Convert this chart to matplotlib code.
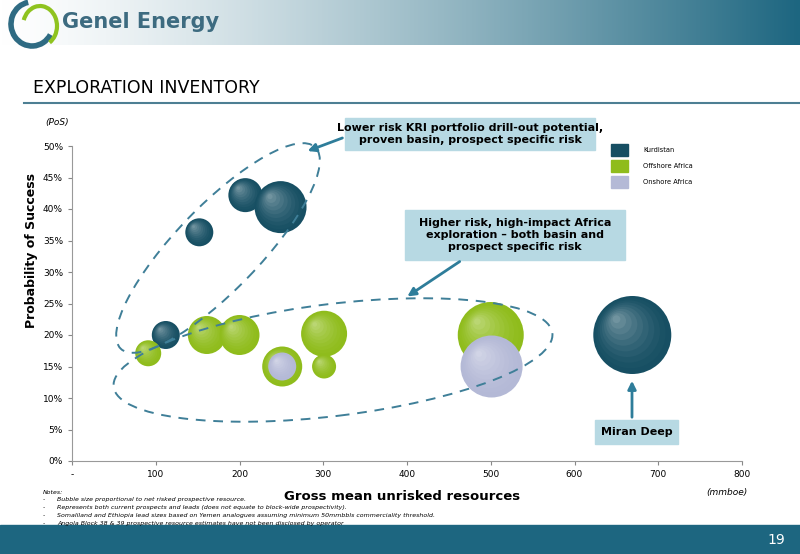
import numpy as np
import matplotlib
matplotlib.use('Agg')
import matplotlib.pyplot as plt
from matplotlib.patches import Ellipse, Arc
from matplotlib.colors import to_rgb

# data (x = gross mean unrisked resources mmboe, y = PoS %, r = bubble radius px)
kur_x = [207, 249, 152, 112, 669]
kur_y = [42.2, 40.3, 36.3, 20.0, 20.0]
kur_r = [17, 26, 14, 14, 39]
off_x = [91, 161, 200, 251, 301, 301, 500]
off_y = [17.1, 20.0, 20.0, 15.0, 20.2, 15.0, 20.0]
off_r = [13, 19, 20, 20, 23, 12, 33]
on_x = [251, 501]
on_y = [15.0, 15.0]
on_r = [14, 31]
series = [('Kurdistan', '#174f63', kur_x, kur_y, kur_r),
          ('Offshore Africa', '#8fbc1c', off_x, off_y, off_r),
          ('Onshore Africa', '#b4b9d6', on_x, on_y, on_r)]
xticks = [0, 100, 200, 300, 400, 500, 600, 700, 800]
xlabels = ['-'] + [str(v) for v in xticks[1:]]
yticks = [0, 5, 10, 15, 20, 25, 30, 35, 40, 45, 50]

TEAL = '#1d6680'
fig = plt.figure(figsize=(8, 5.54), dpi=100)

# overlay in pixel coords
ov = fig.add_axes([0, 0, 1, 1], zorder=0)
ov.set_xlim(0, 800); ov.set_ylim(0, 554); ov.axis('off')
grad = np.linspace(0, 1, 400) ** 1.3
c0, c1 = np.array(to_rgb('white')), np.array(to_rgb(TEAL))
img = (c0[None, :] * (1 - grad[:, None]) + c1[None, :] * grad[:, None])[None, :, :]
ov.imshow(img, extent=[0, 800, 554 - 45, 554], aspect='auto', zorder=0)
ov.add_patch(plt.Rectangle((0, 0), 800, 29, color=TEAL, zorder=1))
ov.text(785, 14, '19', color='white', fontsize=10, ha='right', va='center')
# logo
ov.add_patch(Arc((32, 530), 42, 44, theta1=100, theta2=330, color='#2f6b83', lw=4))
ov.add_patch(Arc((40, 528), 34, 40, theta1=-60, theta2=160, color='#8fc31f', lw=3))
ov.text(62, 532, 'Genel Energy', color='#3d6b80', fontsize=15, fontweight='bold', va='center')
ov.text(33, 466, 'EXPLORATION INVENTORY', fontsize=12.5, va='center')
ov.plot([24, 800], [451, 451], color='#4d7f93', lw=1.5)

ov.text(45, 432, '(PoS)', fontsize=6.5, style='italic', va='center')
ov.text(706, 62, '(mmboe)', fontsize=6.5, style='italic', va='center')
ov.text(402, 58, 'Gross mean unrisked resources', fontsize=9.5, fontweight='bold', ha='center', va='center')
ov.text(32, 304, 'Probability of Success', fontsize=9, fontweight='bold', rotation=90, ha='center', va='center')
notes = ['Bubble size proportional to net risked prospective resource.',
         'Represents both current prospects and leads (does not equate to block-wide prospectivity).',
         'Somaliland and Ethiopia lead sizes based on Yemen analogues assuming minimum 50mmbbls commerciality threshold.',
         'Angola Block 38 & 39 prospective resource estimates have not been disclosed by operator']
ov.text(43, 62, 'Notes:', fontsize=4.5, style='italic', va='center')
for i, n in enumerate(notes):
    yy = 54 - i * 8
    ov.text(43, yy, '-', fontsize=4.5, va='center')
    ov.text(57, yy, n, fontsize=4.5, style='italic', va='center')

# legend
for i, (name, col, *_ ) in enumerate(series):
    yy = 554 - 150 - i * 16
    ov.add_patch(plt.Rectangle((611, yy - 6), 17, 12, color=col))
    ov.text(643, yy, name, fontsize=4.8, va='center')

# chart
ax = fig.add_axes([72 / 800, 93 / 554, 670 / 800, 315 / 554], zorder=2)
ax.patch.set_alpha(0)
for name, col, xs, ys, rs in series:
    base = np.array(to_rgb(col))
    for x, y, r in zip(xs, ys, rs):
        n = 10
        for k in range(n):
            f = 1 - k / n
            c = base * (1 - 0.45 * (k / n) ** 1.5) + 0.45 * (k / n) ** 1.5
            d = 2 * r * 0.72 * f
            off = (1 - f) * r * 0.45
            ax.scatter([x - off / 0.8375], [y + off / 6.3], s=d ** 2, color=c,
                       edgecolors='none', zorder=3)
ax.set_xlim(0, 800); ax.set_ylim(0, 50)
ax.set_xticks(xticks); ax.set_xticklabels(xlabels)
ax.set_yticks(yticks); ax.set_yticklabels([f'{v}%' for v in yticks])
ax.tick_params(labelsize=6.5, length=3, color='#888888')
for s in ['top', 'right']:
    ax.spines[s].set_visible(False)
for s in ['left', 'bottom']:
    ax.spines[s].set_color('#999999')

# dashed ellipses and call-outs on top overlay
top = fig.add_axes([0, 0, 1, 1], zorder=3)
top.set_xlim(0, 800); top.set_ylim(0, 554); top.axis('off')
ec = '#3f7f98'
top.add_patch(Ellipse((218, 554 - 248), 280, 84, angle=46, fill=False, ls=(0, (5, 4)), ec=ec, lw=1.4))
top.add_patch(Ellipse((333, 554 - 360), 442, 112, angle=7, fill=False, ls=(0, (5, 4)), ec=ec, lw=1.4))
boxes = [((345, 554 - 150), 250, 32, 'Lower risk KRI portfolio drill-out potential,\nproven basin, prospect specific risk'),
         ((405, 554 - 260), 220, 50, 'Higher risk, high-impact Africa\nexploration \u2013 both basin and\nprospect specific risk'),
         ((595, 554 - 444), 83, 24, 'Miran Deep')]
for (bx, by), w, h, t in boxes:
    top.add_patch(plt.Rectangle((bx, by), w, h, color='#b7d9e3'))
    top.text(bx + w / 2, by + h / 2, t, fontsize=8, fontweight='bold', ha='center', va='center', linespacing=1.3)
arrows = [((345, 554 - 137), (305, 554 - 152)),
          ((462, 554 - 260), (405, 554 - 298)),
          ((632, 554 - 420), (632, 554 - 378))]
for a, b in arrows:
    top.annotate('', xy=b, xytext=a, arrowprops=dict(arrowstyle='-|>', color='#2e7d9a', lw=2, mutation_scale=12))

fig.savefig('out.png', dpi=100)
